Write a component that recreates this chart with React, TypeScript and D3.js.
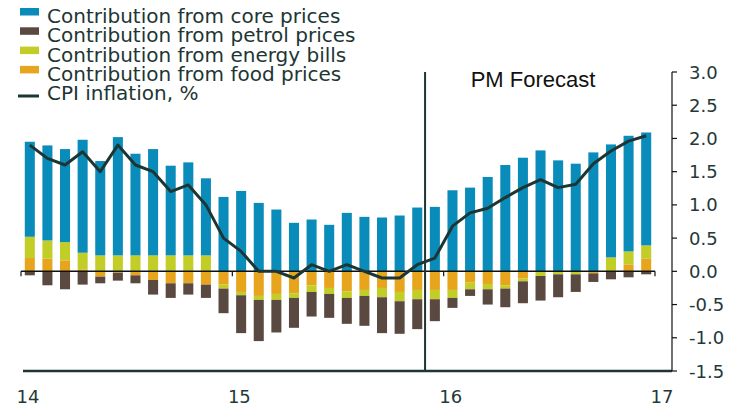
import React from "react";
import * as d3 from "d3";

const months: string[] = [
  "2014-01","2014-02","2014-03","2014-04","2014-05","2014-06","2014-07","2014-08","2014-09","2014-10","2014-11","2014-12",
  "2015-01","2015-02","2015-03","2015-04","2015-05","2015-06","2015-07","2015-08","2015-09","2015-10","2015-11","2015-12",
  "2016-01","2016-02","2016-03","2016-04","2016-05","2016-06","2016-07","2016-08","2016-09","2016-10","2016-11","2016-12",
];

const corePrices: number[] = [
  1.43, 1.43, 1.40, 1.70, 1.42, 1.78, 1.53, 1.60, 1.35, 1.40, 1.16, 1.12,
  1.21, 1.03, 0.93, 0.73, 0.78, 0.70, 0.88, 0.82, 0.81, 0.84, 0.96, 0.97,
  1.22, 1.26, 1.42, 1.60, 1.71, 1.82, 1.67, 1.62, 1.79, 1.70, 1.74, 1.70,
];
const petrolPrices: number[] = [
  -0.06, -0.21, -0.27, -0.20, -0.10, -0.12, -0.12, -0.22, -0.22, -0.17, -0.20, -0.37,
  -0.57, -0.62, -0.49, -0.45, -0.37, -0.36, -0.39, -0.45, -0.54, -0.49, -0.45, -0.33,
  -0.15, -0.10, -0.23, -0.28, -0.33, -0.37, -0.345, -0.265, -0.13, -0.12, -0.09, -0.045,
];
const energyBills: number[] = [
  0.32, 0.275, 0.275, 0.25, 0.24, 0.24, 0.24, 0.24, 0.24, 0.24, 0.24, -0.06,
  -0.05, -0.06, -0.09, -0.07, -0.10, -0.09, -0.10, -0.09, -0.14, -0.14, -0.14, -0.14,
  -0.12, -0.10, -0.08, -0.05, -0.04, -0.07, -0.045, -0.045, 0, 0.21, 0.195, 0.195,
];
const foodPrices: number[] = [
  0.20, 0.19, 0.165, 0.03, -0.08, -0.02, -0.06, -0.13, -0.18, -0.18, -0.20, -0.20,
  -0.31, -0.37, -0.34, -0.33, -0.21, -0.25, -0.30, -0.28, -0.25, -0.31, -0.28, -0.28,
  -0.28, -0.17, -0.19, -0.21, -0.11, 0, 0, 0, -0.03, 0, 0.105, 0.195,
];
const cpiInflation: number[] = [
  1.9, 1.7, 1.6, 1.8, 1.5, 1.9, 1.6, 1.5, 1.2, 1.3, 1.0, 0.5,
  0.3, 0.0, 0.0, -0.1, 0.1, 0.0, 0.1, 0.0, -0.1, -0.1, 0.1, 0.2,
  0.68, 0.88, 0.95, 1.11, 1.26, 1.38, 1.26, 1.31, 1.62, 1.81, 1.96, 2.04,
];

const yearLabels: string[] = ["14", "15", "16", "17"];
const yTicks: number[] = [3.0, 2.5, 2.0, 1.5, 1.0, 0.5, 0.0, -0.5, -1.0, -1.5];
const forecastStart = "2015-12";

const seriesKeys = ["food", "energy", "petrol", "core"] as const;
const legendItems = [
  { key: "core", label: "Contribution from core prices" },
  { key: "petrol", label: "Contribution from petrol prices" },
  { key: "energy", label: "Contribution from energy bills" },
  { key: "food", label: "Contribution from food prices" },
];
const colors: Record<string, string> = {
  core: "#0a8cba",
  petrol: "#5a4941",
  energy: "#c3cd28",
  food: "#e6a51c",
};
const dark = "#1d3634";

export default function App() {
  const W = 750, H = 420;
  const x0 = 21, x1 = 655;
  const x = d3.scaleBand<string>().domain(months).range([x0, x1]).paddingInner(0.43).paddingOuter(0.215);
  const y = d3.scaleLinear().domain([-1.5, 3]).range([371, 72]);

  const rows = months.map((m, i) => ({
    month: m,
    core: corePrices[i],
    petrol: petrolPrices[i],
    energy: energyBills[i],
    food: foodPrices[i],
  }));
  const stacked = d3.stack<any>().keys(seriesKeys as any).offset(d3.stackOffsetDiverging)(rows);

  const line = d3
    .line<number>()
    .x((_, i) => (x(months[i]) as number) + x.bandwidth() / 2)
    .y((d) => y(d));

  const step = x.step();
  const yearX = yearLabels.map((_, i) => x0 + step * 12 * i);
  const fIdx = months.indexOf(forecastStart);
  const forecastX = x0 + step * fIdx - 1;
  const axisX = 672;
  const font = "'DejaVu Sans', sans-serif";

  return (
    <svg width={W} height={H} style={{ position: "absolute", left: 0, top: 0, background: "#fff" }}>
      {/* bars */}
      {stacked.map((s) => (
        <g key={s.key} fill={colors[s.key]}>
          {s.map((d, i) => {
            const top = y(Math.max(d[0], d[1]));
            const bot = y(Math.min(d[0], d[1]));
            if (bot - top <= 0) return null;
            return <rect key={i} x={x(months[i])} y={top} width={x.bandwidth()} height={bot - top} />;
          })}
        </g>
      ))}

      {/* zero line with year ticks */}
      <line x1={x0} x2={x1} y1={y(0)} y2={y(0)} stroke="#111" strokeWidth={1.5} />
      {yearX.map((xx, i) => (
        <line key={i} x1={xx} x2={xx} y1={y(0)} y2={y(0) + 5} stroke="#111" strokeWidth={1.2} />
      ))}

      {/* CPI line */}
      <path d={line(cpiInflation) || ""} fill="none" stroke={dark} strokeWidth={3} strokeLinejoin="round" />

      {/* forecast divider */}
      <line x1={forecastX} x2={forecastX} y1={y(3)} y2={y(-1.5)} stroke={dark} strokeWidth={2} />
      <text x={533} y={87} textAnchor="middle" fontFamily="'Liberation Sans', Arial, sans-serif" fontSize={22} fill="#111">
        PM Forecast
      </text>

      {/* bottom axis line */}
      <line x1={23} x2={axisX} y1={y(-1.5)} y2={y(-1.5)} stroke={dark} strokeWidth={2.5} />
      {yearLabels.map((lab, i) => (
        <text key={lab} x={yearX[i] + 7} y={403} textAnchor="middle" fontFamily={font} fontSize={18} fill="#243838">
          {lab}
        </text>
      ))}

      {/* right axis */}
      <line x1={axisX} x2={axisX} y1={y(3)} y2={y(-1.5)} stroke="#111" strokeWidth={1.2} />
      {yTicks.map((t) => (
        <g key={t}>
          <line x1={axisX} x2={axisX + 5} y1={y(t)} y2={y(t)} stroke="#111" strokeWidth={1.2} />
          <text x={689} y={y(t) + 6.5} fontFamily={font} fontSize={18} fill="#243838">
            {t.toFixed(1)}
          </text>
        </g>
      ))}

      {/* legend */}
      {legendItems.map((it, i) => (
        <g key={it.key}>
          <rect x={20} y={8 + i * 19.3} width={19} height={7.5} fill={colors[it.key]} />
          <text x={47} y={23 + i * 19.3} fontFamily={font} fontSize={20} fill={dark}>
            {it.label}
          </text>
        </g>
      ))}
      <line x1={18} x2={39} y1={96} y2={96} stroke={dark} strokeWidth={3} />
      <text x={47} y={100} fontFamily={font} fontSize={20} fill={dark}>
        CPI inflation, %
      </text>
    </svg>
  );
}
